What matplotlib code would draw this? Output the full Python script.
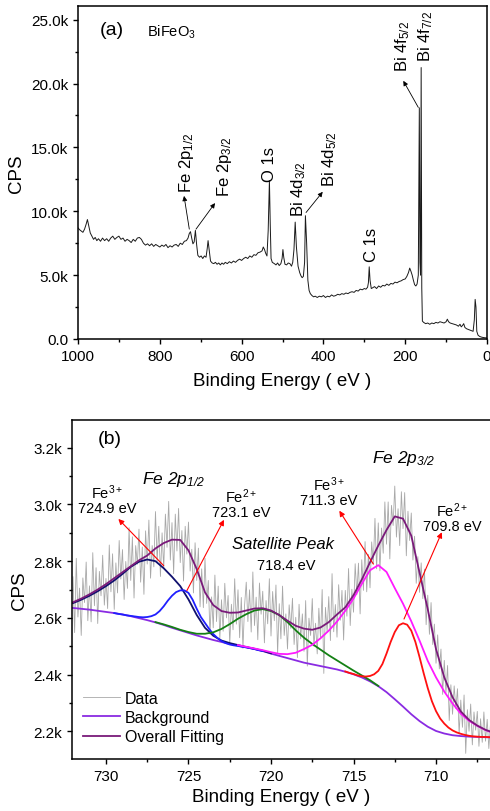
import numpy as np
import matplotlib
matplotlib.use("Agg")
import matplotlib.pyplot as plt
from matplotlib.ticker import MultipleLocator, FuncFormatter

plt.rcParams['font.family'] = ['Liberation Sans', 'DejaVu Sans']
plt.rcParams['mathtext.default'] = 'regular'


# survey spectrum (a): binding energy in eV, counts per second
survey_be = [1000, 996, 992, 988, 984, 980, 977, 974, 970, 966, 962, 958, 954, 950,
             945, 940, 935, 930, 925, 920, 915, 910, 905, 900, 895, 890, 885, 880,
             875, 870, 865, 860, 855, 850, 845, 840, 835, 830, 825, 820, 815, 810,
             805, 800, 795, 790, 785, 780, 775, 770, 765, 760, 755, 750, 745, 740,
             735, 731, 728, 725, 722, 719, 716, 713, 710, 707, 703, 699, 695, 691,
             687, 684, 682, 679, 676, 672, 668, 664, 660, 656, 652, 648, 644, 640,
             635, 630, 625, 620, 615, 610, 605, 600, 595, 590, 585, 580, 575, 570,
             565, 560, 555, 550, 547, 544, 541, 538, 535, 532, 530, 528, 525, 520,
             516, 512, 508, 504, 501, 499, 497, 494, 490, 486, 482, 478, 475, 472,
             469, 466, 462, 458, 455, 452, 449, 446, 444, 441, 438, 435, 432, 428,
             424, 420, 415, 410, 405, 400, 395, 390, 385, 380, 375, 370, 365, 360,
             355, 350, 345, 340, 335, 330, 325, 320, 315, 310, 305, 300, 296, 292,
             290, 288, 286, 283, 280, 275, 270, 265, 260, 255, 250, 245, 240, 235,
             230, 225, 220, 215, 210, 205, 200, 196, 192, 189, 186, 183, 180, 177,
             174, 171, 168, 165.5, 164, 162.5, 161, 159.5, 158, 155, 150, 145, 140,
             135, 130, 125, 120, 115, 110, 105, 100, 97, 94, 90, 85, 80, 75, 70, 66,
             63, 60, 57, 54, 50, 46, 42, 38, 34, 31, 29, 27, 25, 22, 18, 14, 10, 6,
             2, 0]
survey_cps = [8700, 8550, 8450, 8350, 8600, 9000, 9350, 8900, 8300, 8050, 7800, 7950,
              7700, 7850, 7650, 7900, 7700, 7850, 7650, 7900, 8050, 7800, 7950, 8050,
              7800, 7900, 7650, 7800, 7700, 7550, 7800, 7650, 7900, 7950, 7800, 7500,
              7350, 7450, 7300, 7450, 7250, 7400, 7300, 7200, 7350, 7250, 7400, 7150,
              7300, 7200, 7350, 7400, 7250, 7500, 7400, 7650, 7700, 7900, 8250, 8400,
              7900, 7450, 7600, 8500, 7400, 6550, 6400, 6500, 6300, 6500, 6400, 7100,
              7700, 6900, 6100, 5950, 5900, 6000, 5850, 5950, 5800, 5950, 5850, 6000,
              5900, 6050, 5950, 6100, 6000, 6150, 6250, 6150, 6300, 6400, 6300, 6500,
              6400, 6600, 6550, 6750, 6800, 6900, 7200, 7000, 6700, 6500, 8500, 12400,
              9000, 6300, 6000, 5900, 5800, 5950, 5750, 5900, 6300, 7000, 6400, 5850,
              5800, 5950, 5900, 5700, 6000, 7000, 9150, 7200, 5700, 5200, 4950, 4800,
              4900, 6000, 9650, 7500, 4600, 3800, 3550, 3400, 3300, 3350, 3250, 3350,
              3300, 3400, 3250, 3350, 3300, 3450, 3350, 3400, 3500, 3450, 3550, 3500,
              3600, 3550, 3650, 3700, 3650, 3800, 3750, 3900, 3850, 3950, 3900, 4050,
              4400, 5650, 4600, 3950, 4000, 4100, 3950, 4150, 4050, 4200, 4150, 4300,
              4200, 4350, 4300, 4450, 4400, 4500, 4550, 4650, 4700, 4900, 5200, 5550,
              5300, 5000, 4600, 4250, 4150, 4300, 5000, 18100, 6000, 5000, 21250, 4000,
              1400, 1300, 1200, 1250, 1150, 1250, 1200, 1300, 1250, 1350, 1300, 1250,
              1350, 1550, 1350, 1250, 1200, 1150, 1100, 1000, 1150, 950, 1050, 1200,
              900, 800, 750, 700, 650, 600, 1500, 3100, 2500, 600, 300, 200, 150, 120,
              100, 90, 80]

# Fe 2p high resolution spectrum (b), raw data every 0.1 eV from 732.0 to 706.7
fe_be = np.round(np.arange(732.0, 706.65, -0.1), 1)
fe_cps = [2745, 2548, 2810, 2603, 2705, 2538, 2741, 2654, 2797, 2590,
          2713, 2586, 2830, 2643, 2777, 2580, 2764, 2678, 2821, 2645,
          2739, 2633, 2857, 2692, 2826, 2630, 2794, 2688, 2873, 2737,
          2841, 2665, 2799, 2704, 2918, 2732, 2886, 2670, 2855, 2789,
          2913, 2726, 2850, 2683, 2907, 2790, 2945, 2740, 2855, 2780,
          2975, 2799, 2923, 2746, 2900, 2774, 2966, 2849, 3011, 2804,
          2936, 2756, 2966, 2836, 2986, 2795, 2908, 2730, 2923, 2825,
          2938, 2765, 2842, 2688, 2865, 2732, 2846, 2639, 2773, 2636,
          2810, 2651, 2732, 2543, 2674, 2565, 2751, 2587, 2712, 2528,
          2664, 2553, 2722, 2600, 2679, 2508, 2648, 2558, 2738, 2578,
          2699, 2530, 2672, 2493, 2645, 2726, 2587, 2699, 2550, 2762,
          2573, 2673, 2523, 2723, 2613, 2694, 2512, 2661, 2579, 2738,
          2536, 2693, 2590, 2716, 2473, 2650, 2526, 2712, 2538, 2614,
          2490, 2646, 2563, 2669, 2506, 2602, 2460, 2648, 2526, 2614,
          2482, 2661, 2430, 2599, 2538, 2668, 2500, 2581, 2473, 2634,
          2526, 2700, 2404, 2637, 2551, 2675, 2520, 2756, 2551, 2647,
          2532, 2717, 2592, 2697, 2522, 2697, 2606, 2774, 2573, 2701,
          2620, 2791, 2682, 2793, 2614, 2805, 2697, 2869, 2692, 2824,
          2706, 2868, 2790, 2951, 2773, 2935, 2766, 2917, 2828, 3009,
          2860, 3009, 2808, 2997, 2926, 3065, 2885, 2985, 2855, 3045,
          2915, 3042, 2819, 2976, 2873, 2970, 2804, 2888, 2722, 2816,
          2690, 2794, 2668, 2772, 2576, 2680, 2542, 2654, 2506, 2578,
          2440, 2540, 2420, 2490, 2330, 2450, 2336, 2432, 2238, 2364,
          2260, 2360, 2280, 2350, 2190, 2310, 2214, 2328, 2122, 2276,
          2200, 2296, 2152, 2268, 2204, 2270, 2147, 2244, 2161, 2268,
          2165, 2242, 2139, 2226]

# fitted curves, every 0.5 eV
fit_be = np.linspace(732.0, 706.5, 52)
background = [2635, 2632, 2629, 2625, 2621, 2617, 2612, 2606, 2599, 2592,
              2584, 2575, 2565, 2556, 2547, 2538, 2530, 2522, 2515, 2508,
              2502, 2496, 2490, 2483, 2474, 2466, 2458, 2450, 2442, 2436,
              2430, 2424, 2418, 2410, 2401, 2390, 2376, 2359, 2338, 2313,
              2287, 2260, 2236, 2216, 2201, 2192, 2186, 2183, 2181, 2180,
              2179, 2178]
overall = [2655, 2668, 2683, 2700, 2719, 2740, 2761, 2782, 2803, 2820,
           2845, 2864, 2876, 2875, 2838, 2772, 2690, 2645, 2624, 2618,
           2619, 2626, 2633, 2634, 2626, 2610, 2590, 2572, 2562, 2558,
           2566, 2585, 2612, 2637, 2680, 2735, 2796, 2855, 2910, 2958,
           2950, 2890, 2760, 2630, 2490, 2390, 2320, 2270, 2240, 2220,
           2205, 2195]

# single components (drawn on top of the background)
fe3_p12_be = np.linspace(732.0, 720.0, 25)
fe3_p12 = [2652, 2664, 2678, 2694, 2712, 2732, 2755, 2780, 2798, 2806,
           2800, 2775, 2745, 2712, 2665, 2610, 2565, 2537, 2520, 2511,
           2504, 2497, 2491, 2484, 2475]
fe2_p12_be = np.linspace(729.5, 720.5, 37)
fe2_p12 = [2617, 2614, 2612, 2609, 2607, 2605, 2603, 2602, 2603, 2606,
           2612, 2624, 2641, 2661, 2678, 2691, 2697, 2697, 2688, 2664,
           2632, 2603, 2582, 2561, 2543, 2529, 2518, 2511, 2506, 2503,
           2501, 2498, 2496, 2493, 2490, 2486, 2483]
sat_be = np.linspace(727.0, 713.5, 28)
satellite = [2585, 2577, 2568, 2558, 2550, 2544, 2544, 2549, 2561, 2578,
             2597, 2613, 2626, 2631, 2624, 2610, 2585, 2556, 2530, 2508,
             2488, 2468, 2450, 2432, 2414, 2397, 2380, 2360]
fe3_p32_be = np.linspace(722.0, 706.5, 32)
fe3_p32 = [2504, 2498, 2492, 2486, 2479, 2473, 2472, 2477, 2490, 2505,
           2528, 2555, 2587, 2625, 2668, 2720, 2768, 2786, 2762, 2705,
           2650, 2588, 2520, 2448, 2390, 2340, 2298, 2262, 2237, 2219,
           2204, 2193]
fe2_p32_be = np.linspace(715.5, 706.5, 37)
fe2_p32 = [2411, 2406, 2402, 2397, 2394, 2393, 2395, 2401, 2413, 2437,
           2474, 2515, 2550, 2574, 2581, 2576, 2555, 2515, 2462, 2405,
           2352, 2306, 2271, 2245, 2227, 2213, 2203, 2196, 2191, 2187,
           2184, 2182, 2181, 2180, 2180, 2179, 2179]


def style_axes(ax):
    for s in ax.spines.values():
        s.set_linewidth(1.1)
    ax.tick_params(which='both', direction='out', top=False, right=False,
                   labelsize=11, width=1.0)
    ax.tick_params(which='major', length=3.5)
    ax.tick_params(which='minor', length=2.5)


def kfmt(v, pos):
    if v == 0:
        return "0.0"
    return "%.1fk" % (v / 1000.0)


fig = plt.figure(figsize=(4.9, 8.12), dpi=100)

# ---- (a) survey ----
ax1 = fig.add_axes([0.1592, 0.5813, 0.8347, 0.4101])
ax1.plot(survey_be, survey_cps, color='#1a1a1a', lw=0.7)
ax1.set_xlim(1000, 0)
ax1.set_ylim(0, 26070)
ax1.xaxis.set_major_locator(MultipleLocator(200))
ax1.xaxis.set_minor_locator(MultipleLocator(100))
ax1.yaxis.set_major_locator(MultipleLocator(5000))
ax1.yaxis.set_minor_locator(MultipleLocator(2500))
ax1.yaxis.set_major_formatter(FuncFormatter(kfmt))
style_axes(ax1)
ax1.set_xlabel("Binding Energy ( eV )", fontsize=13.5, labelpad=7)
ax1.set_ylabel("CPS", fontsize=13.5, labelpad=4)

ax1.text(917, 24200, "(a)", fontsize=14, ha='center', va='center')
ax1.text(831, 24050, "BiFeO$_3$", fontsize=10.5, ha='left', va='center')

peak_labels = [("Fe 2p$_{1/2}$", 735, 11500), ("Fe 2p$_{3/2}$", 641, 11190),
               ("O 1s", 531, 12360), ("Bi 4d$_{3/2}$", 461, 9620),
               ("Bi 4d$_{5/2}$", 384, 11970), ("C 1s", 282, 6100),
               ("Bi 4f$_{5/2}$", 207, 20970), ("Bi 4f$_{7/2}$", 150, 21750)]
for txt, x, y in peak_labels:
    ax1.text(x, y, txt, rotation=90, fontsize=12, ha='center', va='bottom')

# arrows from peak to its label
arrows_a = [((727.9, 8600), (740.8, 11200)), ((711.5, 8600), (665, 10640)),
            ((442.5, 9900), (401.7, 11520)), ((168, 18130), (204.6, 20210))]
for tail, head in arrows_a:
    ax1.annotate("", xy=head, xytext=tail,
                 arrowprops=dict(arrowstyle='-|>', color='black', lw=0.6,
                                 mutation_scale=7, shrinkA=0, shrinkB=0))

# ---- (b) Fe 2p ----
ax2 = fig.add_axes([0.1469, 0.0640, 0.8551, 0.4175])
ax2.plot(fe_be, fe_cps, color='#a8a8a8', lw=0.6, label='Data')
ax2.plot(fit_be, background, color='#8a2be2', lw=1.3, label='Background')
ax2.plot(fe3_p12_be, fe3_p12, color='#10106e', lw=1.3)
ax2.plot(fe2_p12_be, fe2_p12, color='#1f1fff', lw=1.3)
ax2.plot(sat_be, satellite, color='#148014', lw=1.3)
ax2.plot(fe3_p32_be, fe3_p32, color='#ff1aff', lw=1.3)
ax2.plot(fe2_p32_be, fe2_p32, color='#ff1010', lw=1.3)
ax2.plot(fit_be, overall, color='#7a1a7a', lw=1.3, label='Overall Fitting')
ax2.set_xlim(732.06, 706.67)
ax2.set_ylim(2102, 3298)
ax2.xaxis.set_major_locator(MultipleLocator(5))
ax2.xaxis.set_minor_locator(MultipleLocator(2.5))
ax2.yaxis.set_major_locator(MultipleLocator(200))
ax2.yaxis.set_minor_locator(MultipleLocator(100))
ax2.yaxis.set_major_formatter(FuncFormatter(kfmt))
style_axes(ax2)
ax2.set_xlabel("Binding Energy ( eV )", fontsize=13.5, labelpad=4)
ax2.set_ylabel("CPS", fontsize=13.5, labelpad=4)

ax2.text(730.5, 3234, "(b)", fontsize=14, ha='left', va='center')
ax2.text(727.8, 3090, "Fe 2p$_{1/2}$", fontsize=12.5, style='italic',
         ha='left', va='center')
ax2.text(713.9, 3167, "Fe 2p$_{3/2}$", fontsize=12.5, style='italic',
         ha='left', va='center')
ax2.text(719.3, 2864, "Satellite Peak", fontsize=12, style='italic',
         ha='center', va='center')
ax2.text(719.1, 2786, "718.4 eV", fontsize=10.5, ha='center', va='center')

state_labels = [("Fe$^{3+}$\n724.9 eV", 729.94, 3019),
                ("Fe$^{2+}$\n723.1 eV", 721.8, 3008),
                ("Fe$^{3+}$\n711.3 eV", 716.5, 3047),
                ("Fe$^{2+}$\n709.8 eV", 709.03, 2956)]
for txt, x, y in state_labels:
    ax2.text(x, y, txt, fontsize=10.5, ha='center', va='center',
             linespacing=1.0)

arrows_b = [((726.5, 2784), (729.25, 2949)), ((725.1, 2696), (722.85, 2946)),
            ((713.8, 2790), (715.86, 2978)), ((711.94, 2596), (709.65, 2902))]
for tail, head in arrows_b:
    ax2.annotate("", xy=head, xytext=tail,
                 arrowprops=dict(arrowstyle='-|>', color='red', lw=0.8,
                                 mutation_scale=8, shrinkA=0, shrinkB=0))

leg = ax2.legend(loc='lower left', frameon=False, fontsize=11.5,
                 handlelength=2.3, labelspacing=0.28, handletextpad=0.3,
                 borderaxespad=0.3, bbox_to_anchor=(0.0, 0.01))

fig.savefig("out.png", dpi=100)
